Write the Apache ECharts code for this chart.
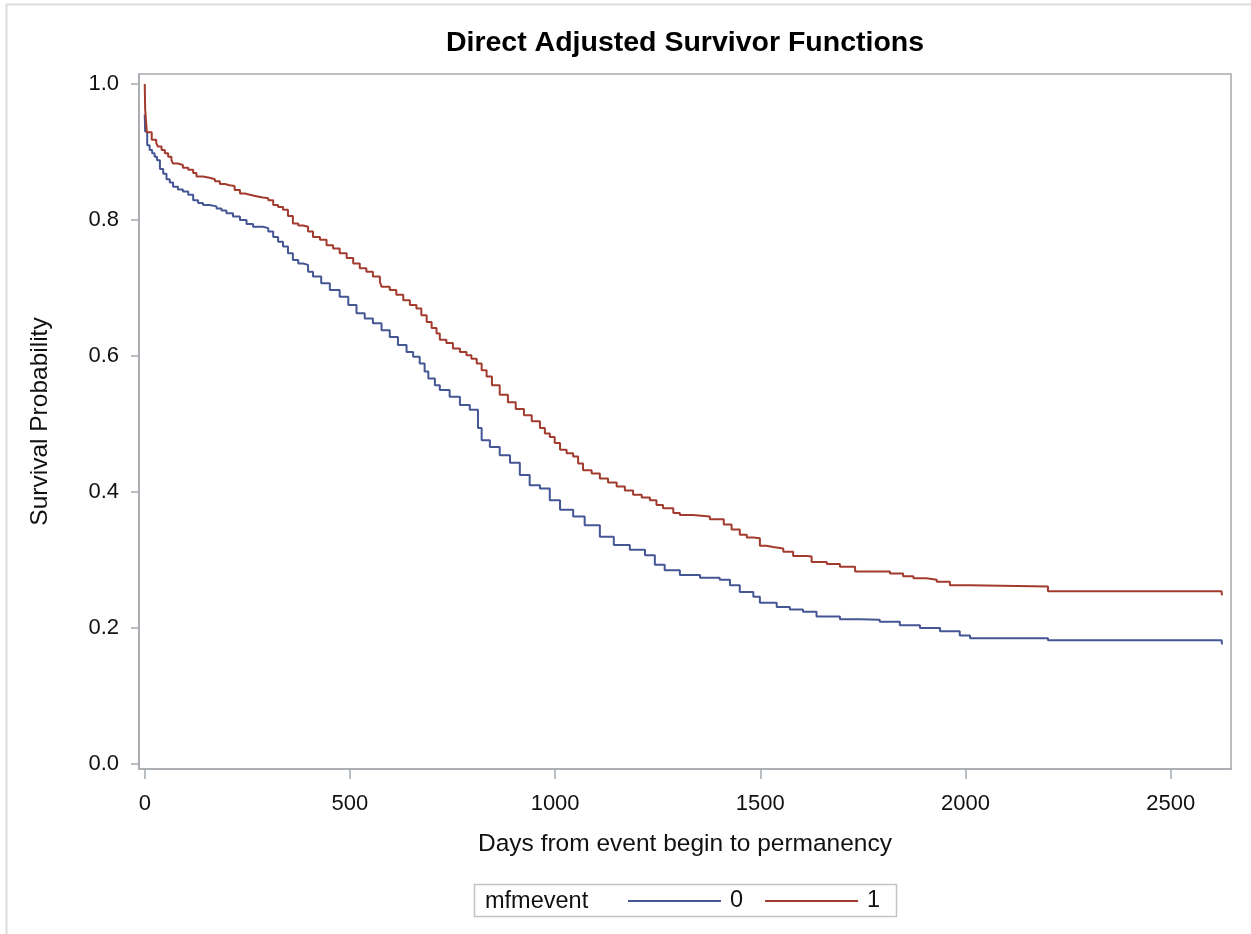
<!DOCTYPE html>
<html>
<head>
<meta charset="utf-8">
<script src="https://cdn.jsdelivr.net/npm/echarts@6/dist/echarts.min.js"></script>
<style>
  html, body { margin: 0; padding: 0; background: #fff; }
  #chart { width: 1251px; height: 934px; }
</style>
</head>
<body>
<div id="chart"></div>
<script>
// survivor curves: [days, survival probability]
var group0 = [
  [0, 0.955], [1, 0.930], [6, 0.910], [12, 0.903], [18, 0.898], [24, 0.893],
  [30, 0.888], [37, 0.875], [45, 0.868], [53, 0.860], [61, 0.855], [69, 0.849],
  [81, 0.845], [93, 0.842], [106, 0.837], [118, 0.829], [130, 0.825], [142, 0.822],
  [158, 0.820], [175, 0.817], [187, 0.814], [199, 0.810], [215, 0.805], [232, 0.800],
  [248, 0.794], [264, 0.790], [288, 0.788], [301, 0.783], [313, 0.775], [325, 0.768],
  [337, 0.761], [349, 0.751], [361, 0.741], [374, 0.736], [386, 0.734], [398, 0.724],
  [410, 0.717], [430, 0.707], [451, 0.697], [475, 0.687], [496, 0.675], [516, 0.663],
  [536, 0.655], [556, 0.648], [577, 0.638], [597, 0.628], [617, 0.616], [638, 0.606],
  [654, 0.599], [670, 0.589], [682, 0.577], [691, 0.567], [707, 0.557], [719, 0.550],
  [743, 0.540], [768, 0.528], [792, 0.521], [812, 0.494], [821, 0.476], [841, 0.466],
  [865, 0.454], [890, 0.443], [914, 0.425], [938, 0.410], [963, 0.405], [987, 0.388],
  [1012, 0.374], [1044, 0.364], [1072, 0.351], [1109, 0.334], [1143, 0.322], [1182, 0.315],
  [1219, 0.307], [1243, 0.293], [1267, 0.285], [1304, 0.278], [1353, 0.274], [1401, 0.271],
  [1426, 0.263], [1450, 0.253], [1483, 0.246], [1499, 0.237], [1540, 0.231], [1572, 0.227],
  [1604, 0.224], [1637, 0.217], [1694, 0.213], [1743, 0.212], [1791, 0.209], [1840, 0.204],
  [1889, 0.200], [1938, 0.195], [1986, 0.189], [2011, 0.185], [2201, 0.182], [2624, 0.182],
  [2625, 0.176]
];
var group1 = [
  [0, 1.000], [1, 0.963], [5, 0.929], [17, 0.918], [28, 0.913], [32, 0.908],
  [41, 0.903], [49, 0.898], [57, 0.893], [65, 0.888], [69, 0.883], [81, 0.881],
  [93, 0.877], [106, 0.874], [118, 0.869], [126, 0.864], [142, 0.862], [158, 0.860],
  [171, 0.857], [183, 0.853], [195, 0.851], [207, 0.850], [219, 0.844], [232, 0.839],
  [244, 0.837], [256, 0.835], [272, 0.833], [288, 0.832], [301, 0.829], [313, 0.822],
  [325, 0.819], [337, 0.815], [349, 0.806], [361, 0.795], [374, 0.792], [386, 0.790],
  [398, 0.783], [410, 0.775], [427, 0.771], [443, 0.763], [459, 0.758], [475, 0.751],
  [492, 0.744], [508, 0.736], [524, 0.729], [540, 0.724], [556, 0.717], [573, 0.709],
  [577, 0.702], [597, 0.697], [613, 0.690], [630, 0.682], [646, 0.675], [662, 0.670],
  [674, 0.660], [687, 0.650], [699, 0.641], [711, 0.633], [719, 0.624], [735, 0.619],
  [751, 0.611], [768, 0.606], [784, 0.601], [796, 0.596], [809, 0.589], [821, 0.579],
  [833, 0.570], [846, 0.557], [865, 0.543], [885, 0.532], [904, 0.522], [924, 0.513],
  [943, 0.504], [963, 0.494], [975, 0.486], [987, 0.481], [999, 0.472], [1012, 0.462],
  [1028, 0.457], [1044, 0.452], [1056, 0.442], [1068, 0.432], [1089, 0.427], [1109, 0.420],
  [1129, 0.414], [1150, 0.408], [1170, 0.402], [1190, 0.396], [1211, 0.392], [1231, 0.388],
  [1247, 0.381], [1263, 0.376], [1288, 0.369], [1304, 0.366], [1336, 0.364], [1377, 0.360],
  [1411, 0.352], [1430, 0.345], [1450, 0.337], [1467, 0.333], [1483, 0.332], [1499, 0.321],
  [1515, 0.319], [1531, 0.317], [1556, 0.312], [1580, 0.306], [1613, 0.305], [1625, 0.297],
  [1662, 0.294], [1694, 0.290], [1731, 0.283], [1816, 0.280], [1848, 0.276], [1873, 0.273],
  [1905, 0.271], [1930, 0.268], [1962, 0.263], [2011, 0.261], [2201, 0.254], [2624, 0.254],
  [2625, 0.248]
];
var xTicks = [0, 500, 1000, 1500, 2000, 2500];
var yTicks = [0, 0.2, 0.4, 0.6, 0.8, 1.0];
var seriesNames = ['0', '1'];
var seriesColors = ['#445694', '#A23A2E'];

var FONT = 'Liberation Sans, Arial, sans-serif';
var axisGray = '#a6aaae';

var chart = echarts.init(document.getElementById('chart'));
chart.setOption({
  backgroundColor: '#fff',
  animation: false,
  title: {
    text: 'Direct Adjusted Survivor Functions',
    left: 685, top: 29, textAlign: 'center', padding: 0,
    textStyle: { fontFamily: FONT, fontSize: 28.5, fontWeight: 'bold', color: '#000' }
  },
  grid: {
    left: 139, top: 74, width: 1092, height: 695,
    show: true, borderColor: axisGray, borderWidth: 1.5, backgroundColor: '#fff'
  },
  legend: {
    data: seriesNames,
    left: 628, top: 889, padding: 0,
    icon: 'rect', itemWidth: 93, itemHeight: 2, itemGap: 22,
    textStyle: { fontFamily: FONT, fontSize: 23.5, color: '#111', padding: [0, 0, 0, 4] }
  },
  xAxis: {
    type: 'value', min: -14, max: 2647,
    name: 'Days from event begin to permanency',
    nameLocation: 'middle', nameGap: 63,
    nameTextStyle: { fontFamily: FONT, fontSize: 24.5, color: '#111' },
    axisLine: { show: true, onZero: false, lineStyle: { color: axisGray, width: 1.5 } },
    axisTick: { show: true, length: 10, customValues: xTicks, lineStyle: { color: axisGray, width: 1.5 } },
    axisLabel: {
      customValues: xTicks, margin: 24, fontFamily: FONT, fontSize: 22, color: '#111',
      formatter: function (v) { return String(v); }
    },
    splitLine: { show: false }
  },
  yAxis: {
    type: 'value', min: -0.0074, max: 1.0147,
    name: 'Survival Probability',
    nameLocation: 'middle', nameGap: 86,
    nameTextStyle: { fontFamily: FONT, fontSize: 24.5, color: '#111' },
    axisLine: { show: true, onZero: false, lineStyle: { color: axisGray, width: 1.5 } },
    axisTick: { show: true, length: 8, customValues: yTicks, lineStyle: { color: axisGray, width: 1.5 } },
    axisLabel: {
      customValues: yTicks, margin: 20, fontFamily: FONT, fontSize: 22, color: '#111',
      formatter: function (v) { return v.toFixed(1); }
    },
    splitLine: { show: false }
  },
  graphic: [
    { type: 'rect', z: -1, silent: true,
      shape: { x: 6.5, y: 4.5, width: 1400, height: 1100 },
      style: { fill: null, stroke: '#dcdcdc', lineWidth: 2 } },
    { type: 'rect', silent: true,
      shape: { x: 474.5, y: 884.5, width: 422, height: 32 },
      style: { fill: null, stroke: '#c4c4c4', lineWidth: 1.5 } },
    { type: 'text', silent: true, left: 485, top: 890,
      style: { text: 'mfmevent', fontFamily: FONT, fontSize: 23.5, fill: '#111' } }
  ],
  series: [
    { name: seriesNames[0], type: 'line', step: 'end', data: group0, symbol: 'none',
      color: seriesColors[0], lineStyle: { color: seriesColors[0], width: 2 } },
    { name: seriesNames[1], type: 'line', step: 'end', data: group1, symbol: 'none',
      color: seriesColors[1], lineStyle: { color: seriesColors[1], width: 2 } }
  ]
});
</script>
</body>
</html>
